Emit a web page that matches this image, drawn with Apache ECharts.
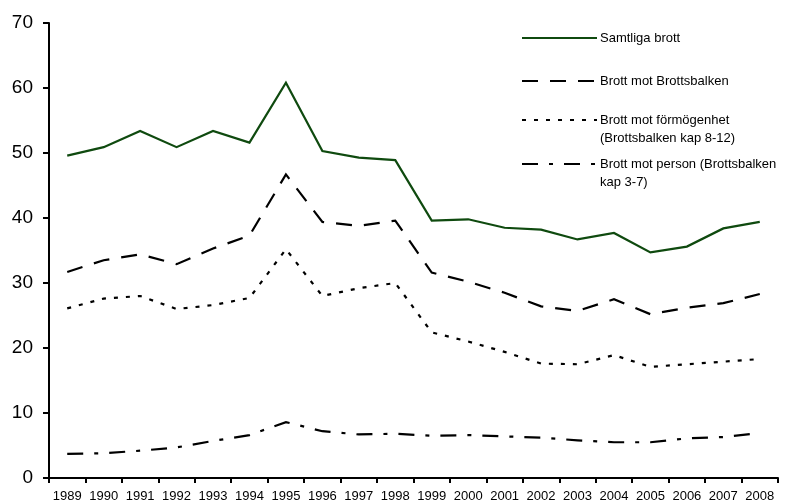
<!DOCTYPE html>
<html>
<head>
<meta charset="utf-8">
<script src="https://cdn.jsdelivr.net/npm/echarts@6/dist/echarts.min.js"></script>
<style>
html,body{margin:0;padding:0;background:#fff;}
#chart{width:806px;height:504px;}
</style>
</head>
<body>
<div id="chart"></div>
<script>
var years = ["1989","1990","1991","1992","1993","1994","1995","1996","1997","1998","1999","2000","2001","2002","2003","2004","2005","2006","2007","2008"];
var seriesNames = ["Samtliga brott", "Brott mot Brottsbalken", "Brott mot förmögenhet\n(Brottsbalken kap 8-12)", "Brott mot person (Brottsbalken\nkap 3-7)"];
var samtliga = [49.6, 50.9, 53.4, 50.9, 53.4, 51.6, 60.8, 50.3, 49.3, 48.9, 39.6, 39.8, 38.5, 38.2, 36.7, 37.7, 34.7, 35.6, 38.4, 39.4];
var brottsbalken = [31.7, 33.5, 34.4, 32.9, 35.3, 37.3, 46.7, 39.4, 38.8, 39.6, 31.6, 30.2, 28.5, 26.4, 25.7, 27.5, 25.2, 26.2, 26.9, 28.3];
var formogenhet = [26.1, 27.6, 28.0, 26.0, 26.6, 27.7, 35.2, 28.0, 29.2, 30.0, 22.4, 21.0, 19.4, 17.6, 17.5, 18.9, 17.1, 17.5, 17.9, 18.3];
var person = [3.7, 3.8, 4.2, 4.7, 5.7, 6.6, 8.6, 7.2, 6.7, 6.8, 6.5, 6.6, 6.4, 6.2, 5.8, 5.5, 5.5, 6.1, 6.3, 6.9];
var yTicks = [0, 10, 20, 30, 40, 50, 60, 70];

var FONT = '"Liberation Sans", Arial, Helvetica, sans-serif';
var styles = [
  {color: '#0f4a0f', type: 'solid'},
  {color: '#000000', type: [16, 12]},
  {color: '#000000', type: [4, 8]},
  {color: '#000000', type: [16, 11, 4, 11]}
];
var allData = [samtliga, brottsbalken, formogenhet, person];

var series = allData.map(function (d, i) {
  return {
    name: seriesNames[i],
    type: 'line',
    data: d,
    symbol: 'none',
    showSymbol: false,
    lineStyle: {width: 2.2, color: styles[i].color, type: styles[i].type, cap: 'butt', join: 'miter'},
    itemStyle: {color: styles[i].color},
    animation: false,
    silent: true
  };
});

var legendTops = [38, 81, 120, 164];
var graphics = [];
seriesNames.forEach(function (n, i) {
  var y = legendTops[i];
  var dash = styles[i].type === 'solid' ? null : styles[i].type;
  graphics.push({
    type: 'line',
    shape: {x1: 522, y1: y, x2: 597, y2: y},
    style: {stroke: styles[i].color, lineWidth: 2, lineDash: dash},
    silent: true
  });
  graphics.push({
    type: 'text',
    left: 600,
    top: y - 9,
    style: {text: n, font: '13px ' + FONT, fill: '#000', lineHeight: 18, textVerticalAlign: 'top'},
    silent: true
  });
});

var chart = echarts.init(document.getElementById('chart'), null, {renderer: 'canvas'});
chart.setOption({
  animation: false,
  backgroundColor: '#fff',
  grid: {left: 49, right: 28, top: 23, bottom: 26, containLabel: false},
  xAxis: {
    type: 'category',
    data: years,
    boundaryGap: true,
    axisLine: {lineStyle: {color: '#000', width: 2}},
    axisTick: {show: true, length: 5, lineStyle: {color: '#000', width: 2}, alignWithLabel: false, interval: 0},
    axisLabel: {color: '#000', fontSize: 13, fontFamily: FONT, interval: 0, margin: 12},
    splitLine: {show: false}
  },
  yAxis: {
    type: 'value',
    min: yTicks[0],
    max: yTicks[yTicks.length - 1],
    interval: 10,
    axisLine: {show: true, lineStyle: {color: '#000', width: 2}},
    axisTick: {show: true, length: 6, lineStyle: {color: '#000', width: 2}},
    axisLabel: {color: '#000', fontSize: 19, fontFamily: FONT, margin: 16},
    splitLine: {show: false}
  },
  series: series,
  graphic: graphics
});
</script>
</body>
</html>
